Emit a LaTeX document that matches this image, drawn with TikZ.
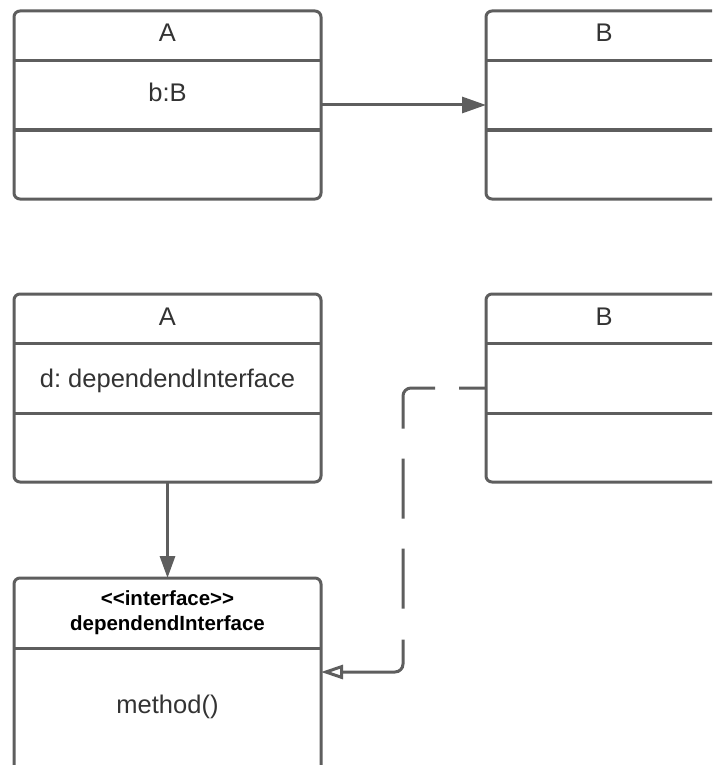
\documentclass[tikz,border=0pt]{standalone}
\usepackage{fontspec}
\setmainfont{Liberation Sans}
\usetikzlibrary{arrows.meta}
\definecolor{edge}{HTML}{5E5E5E}
\definecolor{ink}{HTML}{333333}
\frenchspacing
\begin{document}
\begin{tikzpicture}[x=1pt,y=-1pt,
  umlbox/.style={draw=edge, line width=3pt, rounded corners=6pt, fill=white, inner sep=0pt, outer sep=0pt},
  divider/.style={draw=edge, line width=3pt},
  lbl/.style={text=ink, anchor=base, inner sep=0pt, font=\fontsize{25.5}{30}\selectfont},
  stereo/.style={text=black, anchor=base, inner sep=0pt, font=\fontsize{20.5}{24}\selectfont\bfseries},
  assoc/.style={draw=edge, line width=3pt, -{Triangle[length=24pt,width=16pt]}},
  realize/.style={draw=edge, line width=3pt, rounded corners=8pt,
    dash pattern=on 27pt off 24pt on 69pt off 30pt on 60pt off 30pt on 60pt off 31pt on 300pt,
    -{Triangle[open,length=22pt,width=14pt,fill=white]}}]
\useasboundingbox (0,0) rectangle (712,765);
\clip (0,0) rectangle (712,765);
\fill[white] (0,0) rectangle (712,765);

% ---- association: A holds a B ----
\node[umlbox, minimum width=307pt, minimum height=188pt] (A1) at (167.5,105) {};
\node[umlbox, minimum width=236pt, minimum height=188pt] (B1) at (604,105) {};
\draw[divider] (A1.west |- 0,61) -- (A1.east |- 0,61);
\draw[divider] (A1.west |- 0,130) -- (A1.east |- 0,130);
\draw[divider] (B1.west |- 0,61) -- (B1.east |- 0,61);
\draw[divider] (B1.west |- 0,130) -- (B1.east |- 0,130);
\node[lbl] (A1name) at (167.5,42) {A};
\node[lbl] (A1attr) at (167.5,102) {b:B};
\node[lbl] (B1name) at (604,42) {B};
\draw[assoc] (A1.east) -- (B1.west);

% ---- dependency inversion through an interface ----
\node[umlbox, minimum width=307pt, minimum height=188pt] (A2) at (167.5,388) {};
\node[umlbox, minimum width=236pt, minimum height=188pt] (B2) at (604,388) {};
\node[umlbox, minimum width=307pt, minimum height=222pt] (I) at (167.5,689) {};
\draw[divider] (A2.west |- 0,343) -- (A2.east |- 0,343);
\draw[divider] (A2.west |- 0,413) -- (A2.east |- 0,413);
\draw[divider] (B2.west |- 0,343) -- (B2.east |- 0,343);
\draw[divider] (B2.west |- 0,413) -- (B2.east |- 0,413);
\draw[divider] (I.west |- 0,648) -- (I.east |- 0,648);
\node[lbl] (A2name) at (167.5,325) {A};
\node[lbl] (A2attr) at (167.5,387) {d: dependendInterface};
\node[lbl] (B2name) at (604,325) {B};
\node[stereo] (Istereo) at (167.5,605) {<{}<interface>{}>};
\node[stereo] (Iname) at (167.5,630) {dependendInterface};
\node[lbl] (Imethod) at (167.5,713) {method()};

\draw[assoc, -{Triangle[length=22pt,width=15pt]}] (A2.south) -- (I.north);

\coordinate (bendTop) at (403,388);
\coordinate (bendBottom) at (403,672);
\draw[realize] (B2.west) -- (bendTop) -- (bendBottom) -- (I.east |- bendBottom);
\end{tikzpicture}
\end{document}
